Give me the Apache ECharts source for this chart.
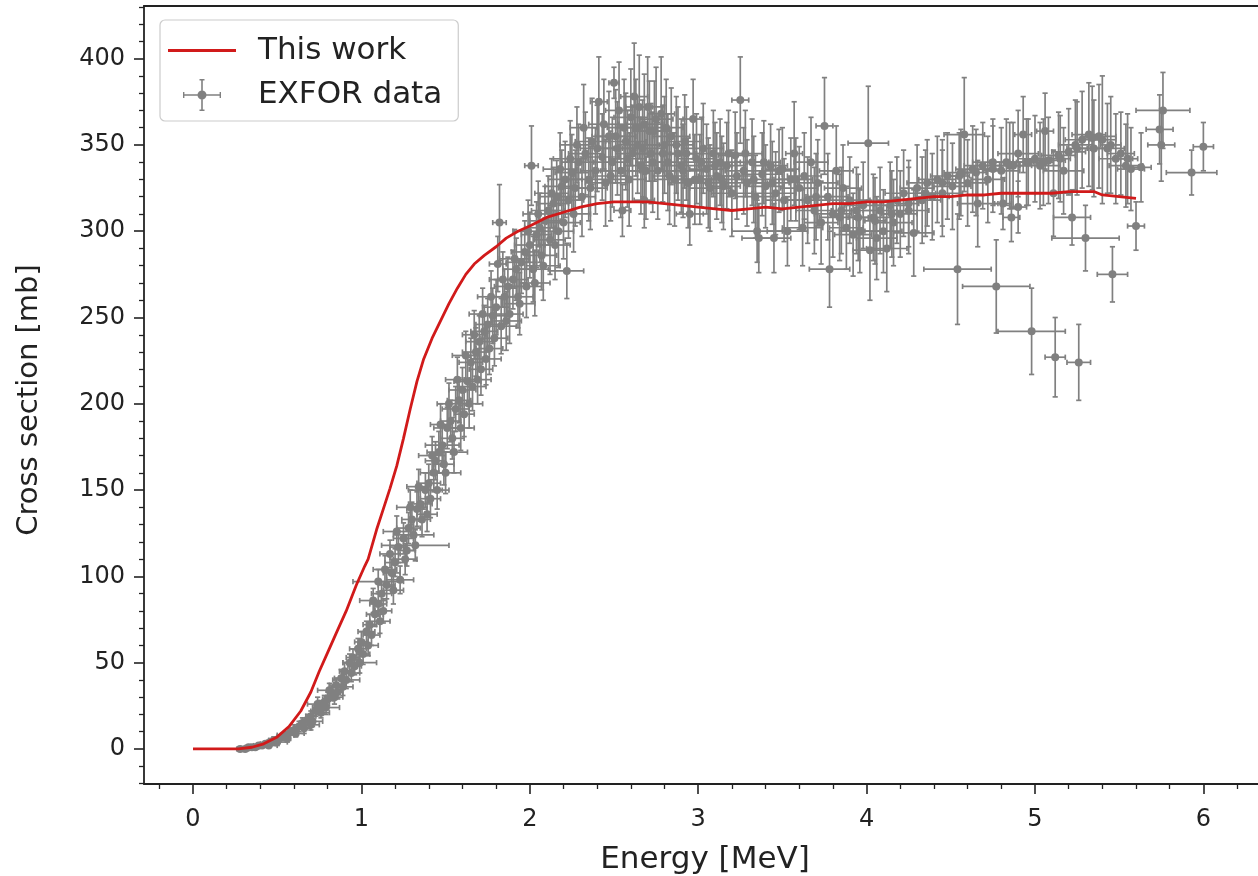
<!DOCTYPE html>
<html>
<head>
<meta charset="utf-8">
<script src="https://cdn.jsdelivr.net/npm/echarts@6/dist/echarts.min.js"></script>
<style>
html,body{margin:0;padding:0;background:#fff;}
#chart{width:1258px;height:876px;}
</style>
</head>
<body>
<div id="chart"></div>
<script>
// ---- Data ----
const xTicks = [0, 1, 2, 3, 4, 5, 6];
const xMinorTicks = [-0.2, 0.2, 0.4, 0.6, 0.8, 1.2, 1.4, 1.6, 1.8, 2.2, 2.4, 2.6, 2.8, 3.2, 3.4, 3.6, 3.8, 4.2, 4.4, 4.6, 4.8, 5.2, 5.4, 5.6, 5.8, 6.2];
const yTicks = [0, 50, 100, 150, 200, 250, 300, 350, 400];
const yMinorTicks = [-20, -10, 10, 20, 30, 40, 60, 70, 80, 90, 110, 120, 130, 140, 160, 170, 180, 190, 210, 220, 230, 240, 260, 270, 280, 290, 310, 320, 330, 340, 360, 370, 380, 390, 410, 420, 430];

// "This work" curve: energy [MeV], cross section [mb]
const workE = [0.00, 0.27, 0.35, 0.42, 0.50, 0.57, 0.64, 0.70, 0.75, 0.80, 0.85, 0.91, 0.97, 1.02, 1.04, 1.09, 1.13, 1.17, 1.21, 1.25, 1.29, 1.33, 1.37, 1.42, 1.47, 1.52, 1.57, 1.62, 1.67, 1.73, 1.80, 1.86, 1.93, 2.00, 2.10, 2.20, 2.30, 2.40, 2.50, 2.60, 2.70, 2.80, 2.90, 3.00, 3.10, 3.20, 3.30, 3.40, 3.50, 3.60, 3.70, 3.80, 3.90, 4.00, 4.10, 4.20, 4.30, 4.40, 4.50, 4.60, 4.70, 4.80, 4.90, 5.00, 5.10, 5.20, 5.30, 5.35, 5.40, 5.50, 5.60];
const workXS = [0, 0, 1, 3, 7, 13, 22, 33, 45, 56, 67, 80, 95, 106, 110, 127, 139, 151, 164, 180, 197, 213, 226, 238, 248, 258, 267, 275, 281, 286, 291, 296, 300, 303, 308, 311, 314, 316, 317, 317, 317, 316, 315, 314, 313, 312, 313, 314, 313, 314, 315, 316, 316, 317, 317, 318, 319, 320, 320, 321, 321, 322, 322, 322, 322, 323, 323, 323, 321, 320, 319];

// EXFOR data: [energy, cross section, energy error, cross section error]
const exforLow = [
  [0.28,0,0.02,1],[0.31,0,0.02,1],[0.33,1,0.02,1],[0.35,1,0.03,1],[0.37,1,0.02,1],[0.39,2,0.03,1],
  [0.41,2,0.02,1],[0.43,3,0.03,1],[0.45,2,0.05,1],[0.46,4,0.02,2],[0.48,5,0.03,2],[0.50,4,0.06,2],
  [0.51,6,0.02,2],[0.53,7,0.03,2],[0.55,8,0.05,2],[0.56,6,0.02,2],[0.58,10,0.03,2],[0.60,11,0.02,3],
  [0.61,9,0.05,2],[0.63,13,0.03,3],[0.65,15,0.02,3],[0.66,12,0.04,3],[0.68,17,0.03,3],[0.70,19,0.03,3],
  [0.71,16,0.06,3],[0.73,22,0.03,3],[0.75,24,0.03,4],[0.76,21,0.05,3],[0.78,27,0.03,4],[0.80,29,0.03,4],
  [0.81,34,0.07,4],[0.83,32,0.03,4],[0.85,37,0.04,4],[0.86,33,0.03,4],[0.88,41,0.04,5],[0.90,45,0.03,5],
  [0.91,40,0.08,5],[0.93,50,0.04,5],[0.95,53,0.04,5],[0.96,48,0.04,5],[0.98,58,0.05,6],[1.00,62,0.04,6],
  [1.01,55,0.04,6],[1.03,68,0.05,6],[1.05,72,0.04,6],
  [0.70,14,0.05,3],[0.74,26,0.06,4],[0.79,24,0.08,4],[0.84,30,0.05,4],[0.89,36,0.06,5],[0.94,44,0.05,5],
  [0.99,50,0.10,6],[1.04,60,0.06,6]
];
const exforRise = [
  [1.06,66,0.05,6],[1.08,78,0.05,7],[1.10,97,0.15,7],[1.10,84,0.05,7],[1.12,90,0.06,7],[1.13,80,0.05,7],
  [1.15,95,0.05,8],[1.17,113,0.06,8],[1.18,102,0.05,8],[1.20,108,0.06,8],[1.22,117,0.05,9],[1.23,98,0.08,8],
  [1.25,122,0.06,9],[1.27,115,0.05,9],[1.28,128,0.07,9],[1.30,133,0.06,10],[1.31,124,0.12,9],[1.33,139,0.06,10],
  [1.35,142,0.07,10],[1.36,133,0.05,10],[1.38,150,0.10,10],[1.40,154,0.07,11],[1.41,145,0.06,11],[1.43,160,0.08,11],
  [1.44,167,0.06,11],[1.46,172,0.07,12],[1.48,176,0.10,12],[1.49,165,0.06,12],[1.51,186,0.08,12],[1.53,190,0.06,12],
  [1.54,180,0.07,12],[1.56,197,0.08,13],[1.58,202,0.07,13],[1.60,208,0.08,13],[1.61,194,0.06,13],[1.63,213,0.08,14],
  [1.65,224,0.07,14],[1.66,210,0.08,14],[1.68,230,0.08,14],[1.70,236,0.08,15],[1.71,220,0.07,15],[1.73,242,0.08,15],
  [1.75,246,0.07,15],[1.76,232,0.08,15],[1.78,251,0.08,16],[1.80,256,0.08,16],[1.81,281,0.05,16],[1.82,305,0.04,22],
  [1.83,245,0.09,16],[1.85,262,0.08,16],[1.87,268,0.08,17],[1.88,252,0.08,17],[1.90,272,0.09,17],[1.92,278,0.08,18],
  [1.93,262,0.09,18],[1.95,282,0.09,18],[1.97,288,0.08,18],[1.98,268,0.09,18],[2.00,292,0.09,19],[2.01,338,0.04,23],
  [2.02,278,0.09,19],[2.04,298,0.09,19],[2.06,302,0.09,20],[2.07,286,0.09,20],[2.09,306,0.09,20],[2.11,312,0.10,20],
  [2.12,295,0.09,20],[2.14,316,0.09,21],[2.16,320,0.10,21],[2.17,300,0.09,21],[2.19,326,0.10,21],[2.21,330,0.10,22],
  [2.22,277,0.10,16],[2.23,318,0.09,22],[2.25,334,0.10,22],[2.27,325,0.10,22],
  [1.07,86,0.08,7],[1.11,74,0.06,7],[1.14,104,0.07,8],[1.19,92,0.06,8],[1.21,126,0.08,9],[1.26,110,0.07,9],
  [1.29,140,0.08,10],[1.32,118,0.20,9],[1.34,152,0.07,10],[1.39,136,0.06,10],[1.42,170,0.08,11],[1.45,150,0.07,11],
  [1.47,188,0.06,12],[1.50,160,0.09,12],[1.52,200,0.07,12],[1.55,172,0.08,12],[1.57,214,0.07,13],[1.59,186,0.08,13],
  [1.62,228,0.08,14],[1.64,200,0.08,14],[1.67,240,0.07,14],[1.69,214,0.08,14],[1.72,252,0.08,15],[1.74,226,0.09,15],
  [1.77,262,0.08,15],[1.79,238,0.08,16],[1.84,272,0.08,16],[1.86,248,0.09,17],[1.91,284,0.09,17],[1.94,258,0.09,18],
  [1.99,300,0.09,18],[2.03,270,0.09,19],[2.05,310,0.09,19],[2.08,280,0.10,20],[2.13,322,0.10,20],[2.15,292,0.09,20],
  [2.18,336,0.10,21],[2.20,305,0.10,21],[2.24,342,0.10,22],[2.26,310,0.10,22],[2.28,350,0.10,22]
];
const exforPlateau = [
  [2.29,340,0.10,22],[2.31,320,0.08,23],[2.33,345,0.10,24],[2.35,330,0.12,24],[2.37,352,0.10,25],[2.39,335,0.09,25],
  [2.41,375,0.05,26],[2.43,343,0.10,25],[2.45,328,0.12,25],[2.47,355,0.10,26],[2.49,340,0.11,26],[2.50,386,0.03,9],
  [2.52,348,0.10,27],[2.54,335,0.12,27],[2.55,312,0.05,15],[2.56,360,0.10,28],[2.58,342,0.11,28],[2.60,366,0.10,28],
  [2.62,378,0.08,31],[2.64,350,0.12,28],[2.66,338,0.10,28],[2.68,362,0.11,29],[2.68,318,0.06,16],[2.70,372,0.10,29],
  [2.72,345,0.12,29],[2.74,358,0.10,29],[2.76,335,0.11,28],[2.78,368,0.08,33],[2.80,350,0.12,28],[2.82,340,0.10,28],
  [2.84,355,0.11,28],[2.86,330,0.12,27],[2.88,345,0.10,27],[2.90,338,0.11,27],[2.92,352,0.10,27],[2.94,328,0.12,26],
  [2.95,310,0.08,18],[2.97,365,0.06,23],[2.99,342,0.11,26],[3.01,330,0.10,26],[3.03,348,0.12,26],[3.05,336,0.10,26],
  [3.07,325,0.12,25],[3.09,345,0.10,25],[3.11,332,0.11,25],[3.13,340,0.12,25],[3.15,326,0.10,25],[3.17,338,0.11,25],
  [3.20,322,0.12,25],[3.22,344,0.10,25],[3.25,376,0.05,25],[3.27,335,0.11,25],[3.29,328,0.12,25],[3.32,340,0.10,25],
  [3.34,320,0.11,24],[3.35,300,0.15,18],[3.36,296,0.10,20],[3.38,333,0.12,24],[3.40,326,0.11,24],[3.43,338,0.10,24],
  [3.45,296,0.10,20],[3.46,322,0.12,24],[3.48,335,0.10,24],[3.51,318,0.11,24],[3.53,300,0.12,20],[3.55,330,0.10,24],
  [3.57,345,0.05,30],[3.60,325,0.11,24],[3.62,302,0.12,22],
  [2.32,360,0.08,25],[2.36,325,0.10,24],[2.40,348,0.10,25],[2.44,362,0.09,26],[2.48,332,0.10,26],[2.51,355,0.12,27],
  [2.53,370,0.08,28],[2.57,352,0.12,28],[2.59,330,0.10,27],[2.61,345,0.10,28],[2.63,360,0.12,28],[2.65,372,0.08,30],
  [2.67,348,0.12,28],[2.69,335,0.10,28],[2.71,358,0.10,29],[2.73,340,0.10,29],[2.75,365,0.10,30],[2.79,345,0.12,28],
  [2.81,360,0.10,28],[2.83,332,0.10,28],[2.87,350,0.10,28],[2.91,335,0.12,27],[2.93,345,0.10,27],[2.98,330,0.10,26],
  [3.02,340,0.10,26],[3.06,328,0.10,26],[3.10,338,0.10,25],[3.14,330,0.12,25],[3.18,345,0.10,25],[3.23,332,0.10,25],
  [3.28,345,0.10,25],[3.33,330,0.10,25],[3.39,340,0.10,24],[3.44,328,0.10,24],[3.50,336,0.10,24],[3.58,330,0.10,24]
];
const exforMid = [
  [3.63,332,0.10,25],[3.65,318,0.12,25],[3.67,340,0.10,26],[3.69,312,0.11,25],[3.71,328,0.12,25],[3.73,305,0.10,24],
  [3.75,361,0.05,28],[3.77,320,0.12,25],[3.78,278,0.12,22],[3.80,310,0.11,25],[3.82,335,0.10,26],[3.84,308,0.12,25],
  [3.86,325,0.11,25],[3.88,302,0.10,24],[3.90,318,0.12,25],[3.92,298,0.11,24],[3.94,312,0.10,25],[3.96,300,0.12,24],
  [3.98,315,0.11,25],[4.01,351,0.12,33],[4.02,289,0.10,29],[4.04,308,0.11,25],[4.06,296,0.12,24],[4.08,312,0.10,25],
  [4.10,300,0.11,24],[4.12,290,0.12,25],[4.14,315,0.10,25],[4.16,305,0.11,25],[4.18,318,0.12,25],[4.20,310,0.10,25],
  [4.22,322,0.11,25],[4.25,312,0.12,25],[4.28,299,0.12,25],[4.30,325,0.10,25],[4.33,318,0.11,25],[4.36,328,0.12,25],
  [4.39,320,0.10,25],[4.42,330,0.11,25],[4.45,322,0.12,25],[4.48,332,0.10,25],[4.51,326,0.11,25],[4.54,278,0.20,32],
  [4.56,334,0.10,25],[4.58,356,0.12,33],[4.60,328,0.11,25],[4.63,336,0.10,25],[4.66,316,0.12,25],[4.69,338,0.11,25],
  [4.72,330,0.10,25],[4.75,340,0.12,25],[4.77,268,0.20,27],[4.80,335,0.11,25],[4.81,316,0.05,15],[4.86,308,0.05,14],
  [4.90,314,0.05,15],
  [3.70,320,0.06,25],[3.85,312,0.06,25],[3.95,308,0.06,25],[4.05,306,0.06,25],[4.15,310,0.06,25],[4.25,316,0.06,25],
  [4.35,322,0.06,25],[4.45,328,0.06,25],[4.55,332,0.06,25],[4.65,334,0.06,25],[4.75,336,0.06,25]
];
const exforHigh = [
  [4.83,340,0.10,25],[4.87,338,0.11,25],[4.90,345,0.12,25],[4.93,356,0.05,22],[4.96,340,0.11,25],[4.98,242,0.20,25],
  [5.00,342,0.10,25],[5.03,338,0.12,25],[5.06,358,0.05,22],[5.08,341,0.10,25],[5.11,322,0.11,25],[5.12,227,0.06,23],
  [5.14,344,0.10,25],[5.17,335,0.12,25],[5.20,346,0.10,25],[5.22,308,0.11,16],[5.24,350,0.10,26],[5.26,224,0.07,22],
  [5.28,353,0.10,28],[5.30,296,0.20,19],[5.32,356,0.10,30],[5.35,348,0.10,28],[5.38,355,0.10,30],[5.40,353,0.08,37],
  [5.43,348,0.10,26],[5.46,275,0.09,16],[5.48,342,0.10,26],[5.51,345,0.08,24],[5.54,338,0.10,24],[5.57,336,0.08,24],
  [5.60,303,0.05,14],[5.63,337,0.06,20],[5.74,359,0.08,20],[5.75,350,0.08,21],[5.76,370,0.16,22],[5.93,334,0.15,13],
  [6.00,349,0.06,14],
  [4.85,338,0.06,25],[4.95,340,0.06,25],[5.05,340,0.06,25],[5.15,342,0.06,25],[5.25,348,0.06,27],[5.34,354,0.06,30],
  [5.45,350,0.06,28],[5.55,342,0.06,26]
];

// ---- Build ----
const workData = workE.map((e, i) => [e, workXS[i]]);
const exforData = [].concat(exforLow, exforRise, exforPlateau, exforMid, exforHigh);

const GRAY = '#808080';
const RED = '#d11a1a';
const INK = '#222';
const FONT = 'DejaVu Sans';

function renderErr(params, api) {
  const x = api.value(0), y = api.value(1), dx = api.value(2), dy = api.value(3);
  const c = api.coord([x, y]);
  const l = api.coord([x - dx, y]);
  const r = api.coord([x + dx, y]);
  const t = api.coord([x, y + dy]);
  const b = api.coord([x, y - dy]);
  const st = { stroke: GRAY, lineWidth: 1.7, fill: null };
  const cap = 2.6;
  return {
    type: 'group',
    children: [
      { type: 'line', shape: { x1: l[0], y1: c[1], x2: r[0], y2: c[1] }, style: st },
      { type: 'line', shape: { x1: c[0], y1: t[1], x2: c[0], y2: b[1] }, style: st },
      { type: 'line', shape: { x1: l[0], y1: c[1] - cap, x2: l[0], y2: c[1] + cap }, style: st },
      { type: 'line', shape: { x1: r[0], y1: c[1] - cap, x2: r[0], y2: c[1] + cap }, style: st },
      { type: 'line', shape: { x1: c[0] - cap, y1: t[1], x2: c[0] + cap, y2: t[1] }, style: st },
      { type: 'line', shape: { x1: c[0] - cap, y1: b[1], x2: c[0] + cap, y2: b[1] }, style: st },
      { type: 'circle', shape: { cx: c[0], cy: c[1], r: 4 }, style: { fill: GRAY, stroke: null } }
    ]
  };
}

const X_MIN = -0.291, X_MAX = 6.3244, Y_MIN = -20.3, Y_MAX = 430.5;
const axisLineStyle = { color: INK, width: 1.8 };

const chart = echarts.init(document.getElementById('chart'), null, { renderer: 'canvas' });
chart.setOption({
  animation: false,
  backgroundColor: '#fff',
  textStyle: { fontFamily: FONT },
  grid: { left: 144, right: 0, top: 6, bottom: 92, containLabel: false, outerBoundsMode: 'none' },
  legend: {
    orient: 'vertical',
    left: 160, top: 20,
    padding: [15, 16, 10, 8],
    itemWidth: 68, itemHeight: 32, itemGap: 13,
    backgroundColor: 'rgba(255,255,255,0.8)',
    borderColor: '#cccccc', borderWidth: 1.2, borderRadius: 5,
    textStyle: { fontFamily: FONT, fontSize: 31, color: INK, padding: [0, 0, 0, 17] },
    data: [
      { name: 'This work', icon: 'path://M0,0H68V3H0Z' },
      { name: 'EXFOR data', icon: 'path://M0,15.2H38V16.8H0Z M18.2,0H19.8V32H18.2Z M0,13H1.4V19H0Z M36.6,13H38V19H36.6Z M16.5,0H21.5V1.4H16.5Z M16.5,30.6H21.5V32H16.5Z M19,11.5A4.5,4.5 0 1,1 19,20.5A4.5,4.5 0 1,1 19,11.5Z' }
    ]
  },
  xAxis: [
    {
      type: 'value', min: X_MIN, max: X_MAX, position: 'bottom',
      name: 'Energy [MeV]', nameLocation: 'middle', nameGap: 60,
      nameTextStyle: { fontFamily: FONT, fontSize: 31, color: INK, padding: [0, 0, 0, 8] },
      axisLine: { show: true, onZero: false, lineStyle: axisLineStyle },
      axisTick: { show: true, inside: false, length: 10, customValues: xTicks, lineStyle: { color: INK, width: 1.6 } },
      axisLabel: { show: true, customValues: xTicks, margin: 24, fontFamily: FONT, fontSize: 24, color: INK },
      splitLine: { show: false }
    },
    {
      type: 'value', min: X_MIN, max: X_MAX, position: 'bottom',
      axisLine: { show: false, onZero: false },
      axisTick: { show: true, inside: false, length: 5, customValues: xMinorTicks, lineStyle: { color: INK, width: 1.3 } },
      axisLabel: { show: false },
      splitLine: { show: false }
    },
    {
      type: 'value', min: X_MIN, max: X_MAX, position: 'top',
      axisLine: { show: true, onZero: false, lineStyle: axisLineStyle },
      axisTick: { show: false }, axisLabel: { show: false }, splitLine: { show: false }
    }
  ],
  yAxis: [
    {
      type: 'value', min: Y_MIN, max: Y_MAX, position: 'left',
      name: 'Cross section [mb]', nameLocation: 'middle', nameGap: 100, nameRotate: 90,
      nameTextStyle: { fontFamily: FONT, fontSize: 29, color: INK, padding: [0, 10, 0, 0] },
      axisLine: { show: true, onZero: false, lineStyle: axisLineStyle },
      axisTick: { show: true, inside: false, length: 10, customValues: yTicks, lineStyle: { color: INK, width: 1.6 } },
      axisLabel: { show: true, customValues: yTicks, margin: 19, fontFamily: FONT, fontSize: 24, color: INK },
      splitLine: { show: false }
    },
    {
      type: 'value', min: Y_MIN, max: Y_MAX, position: 'left',
      axisLine: { show: false, onZero: false },
      axisTick: { show: true, inside: false, length: 5, customValues: yMinorTicks, lineStyle: { color: INK, width: 1.3 } },
      axisLabel: { show: false },
      splitLine: { show: false }
    }
  ],
  series: [
    {
      name: 'This work', type: 'line', xAxisIndex: 0, yAxisIndex: 0,
      data: workData, showSymbol: false, symbol: 'none', smooth: false,
      lineStyle: { color: RED, width: 2.8 }, itemStyle: { color: RED }, z: 5
    },
    {
      name: 'EXFOR data', type: 'custom', xAxisIndex: 0, yAxisIndex: 0,
      data: exforData, encode: { x: 0, y: 1 }, renderItem: renderErr,
      itemStyle: { color: GRAY }, z: 3, clip: true
    }
  ]
});
</script>
</body>
</html>
